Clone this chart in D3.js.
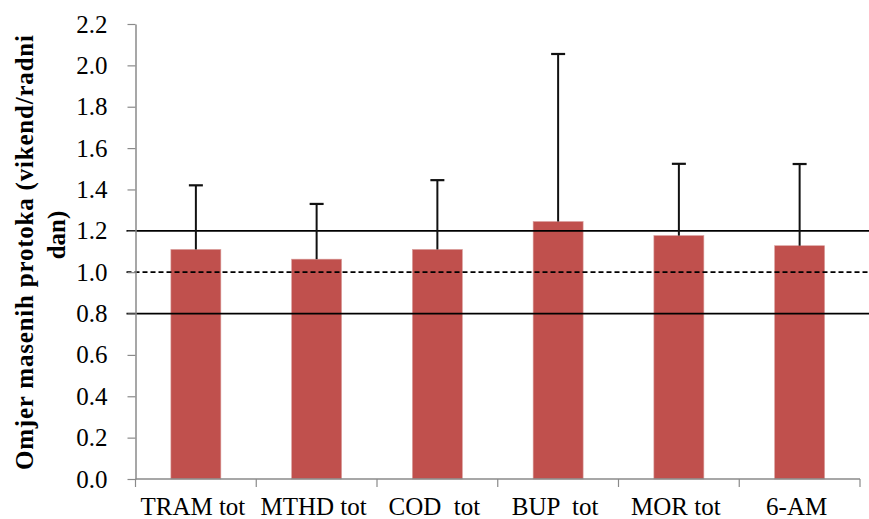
<!DOCTYPE html>
<html>
<head>
<meta charset="utf-8">
<script src="https://cdn.jsdelivr.net/npm/d3@7/dist/d3.min.js"></script>
<style>
  html, body { margin: 0; padding: 0; background: #fff; }
  svg { display: block; }
</style>
</head>
<body>
<svg id="chart" width="869" height="519"></svg>
<script>
// ---- data ----
const categories = ["TRAM tot", "MTHD tot", "COD  tot", "BUP  tot", "MOR tot", "6-AM"];
const means      = [1.11, 1.063, 1.11, 1.245, 1.177, 1.128];
const errors     = [0.31, 0.267, 0.335, 0.81, 0.347, 0.395];
const yTicks     = [0.0, 0.2, 0.4, 0.6, 0.8, 1.0, 1.2, 1.4, 1.6, 1.8, 2.0, 2.2];
const refSolid   = [1.2, 0.8];
const refDashed  = [1.0];
const yTitleLines = ["Omjer masenih protoka (vikend/radni", "dan)"];

// ---- layout ----
const W = 869, H = 519;
const pLeft = 135.5, pRight = 860, pTop = 24, pBottom = 479;
const FONT = "Liberation Serif";
const svg = d3.select("#chart").attr("font-family", FONT);

const x = d3.scaleBand().domain(categories).range([pLeft, pRight]).padding(0);
const y = d3.scaleLinear().domain([0, 2.2]).range([pBottom, pTop]);
const barW = x.bandwidth() * 0.414;
const axisColor = "#8a8a8a";

// bars
svg.append("g").selectAll("rect")
  .data(categories)
  .join("rect")
  .attr("x", (d) => x(d) + x.bandwidth() / 2 - barW / 2)
  .attr("width", barW)
  .attr("y", (d, i) => y(means[i]))
  .attr("height", (d, i) => y(0) - y(means[i]))
  .attr("fill", "#C0504D")
  .attr("stroke", "#d9a09e")
  .attr("stroke-width", 0.6);

// reference lines
const refG = svg.append("g");
refG.selectAll("line.solid").data(refSolid).join("line")
  .attr("class", "solid")
  .attr("x1", pLeft - 9).attr("x2", W)
  .attr("y1", (d) => y(d)).attr("y2", (d) => y(d))
  .attr("stroke", "#000").attr("stroke-width", 1.8);
refG.selectAll("line.dash").data(refDashed).join("line")
  .attr("class", "dash")
  .attr("x1", pLeft - 9).attr("x2", W)
  .attr("y1", (d) => y(d)).attr("y2", (d) => y(d))
  .attr("stroke", "#000").attr("stroke-width", 1.8)
  .attr("stroke-dasharray", "5,3");

// error bars
const errG = svg.append("g").attr("stroke", "#111").attr("stroke-width", 2);
categories.forEach((c, i) => {
  const cx = x(c) + x.bandwidth() / 2;
  errG.append("line")
    .attr("x1", cx).attr("x2", cx)
    .attr("y1", y(means[i])).attr("y2", y(means[i] + errors[i]));
  errG.append("line")
    .attr("x1", cx - 7).attr("x2", cx + 7)
    .attr("y1", y(means[i] + errors[i])).attr("y2", y(means[i] + errors[i]))
    .attr("stroke-width", 2.2);
});

// y axis
const yAxis = svg.append("g")
  .attr("transform", `translate(${pLeft},0)`)
  .call(d3.axisLeft(y).tickValues(yTicks).tickFormat(d3.format(".1f"))
    .tickSize(8).tickSizeOuter(0).tickPadding(20));
yAxis.attr("font-family", FONT).attr("font-size", 25);
yAxis.select(".domain").attr("stroke", axisColor).attr("stroke-width", 1.5);
yAxis.selectAll(".tick line").attr("stroke", axisColor).attr("stroke-width", 1.2);
yAxis.selectAll(".tick text").attr("fill", "#000");

// x axis
const xAxisG = svg.append("g").attr("transform", `translate(0,${pBottom})`);
xAxisG.append("line")
  .attr("x1", pLeft).attr("x2", pRight).attr("y1", 0).attr("y2", 0)
  .attr("stroke", axisColor).attr("stroke-width", 1.5);
const boundaries = categories.map((c) => x(c)).concat([x(categories[categories.length - 1]) + x.step()]);
xAxisG.selectAll("line.bt").data(boundaries).join("line")
  .attr("class", "bt")
  .attr("x1", (d) => d).attr("x2", (d) => d)
  .attr("y1", 0).attr("y2", 8)
  .attr("stroke", axisColor).attr("stroke-width", 1.2);
xAxisG.selectAll("text").data(categories).join("text")
  .attr("x", (d) => x(d) + x.bandwidth() / 2 - 3)
  .attr("y", 36)
  .attr("text-anchor", "middle")
  .attr("font-family", FONT)
  .attr("font-size", 25)
  .attr("fill", "#000")
  .style("white-space", "pre")
  .text((d) => d);

// y title
const titleG = svg.append("g").attr("font-family", FONT).attr("font-weight", "bold").attr("font-size", 25);
titleG.append("text")
  .attr("transform", "translate(33,252.5) rotate(-90)")
  .attr("text-anchor", "middle")
  .attr("textLength", 435)
  .attr("lengthAdjust", "spacing")
  .text(yTitleLines[0]);
titleG.append("text")
  .attr("transform", "translate(65,235) rotate(-90)")
  .attr("text-anchor", "middle")
  .text(yTitleLines[1]);
</script>
</body>
</html>
